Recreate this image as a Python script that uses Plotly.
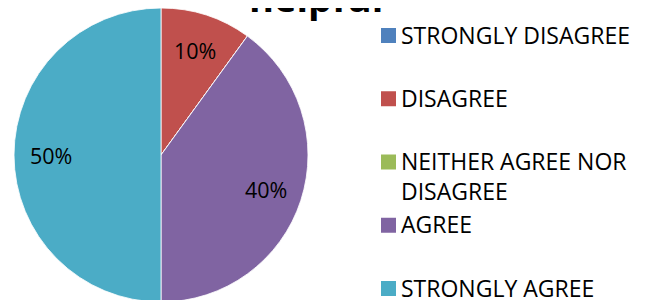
import math
import plotly.graph_objects as go

categories = ["STRONGLY DISAGREE", "DISAGREE", "NEITHER AGREE NOR DISAGREE", "AGREE", "STRONGLY AGREE"]
legend_text = ["STRONGLY DISAGREE", "DISAGREE", "NEITHER AGREE NOR<br>DISAGREE", "AGREE", "STRONGLY AGREE"]
percent_values = [0, 10, 0, 40, 50]
colors = ["#4F81BD", "#C0504D", "#9BBB59", "#8064A2", "#4BACC6"]
title_text = "helpful"

W, H = 649, 300
OFF = 8          # page body margin: figure pixel = screen pixel - OFF
MB = 6
PH = H - MB


def px_x(sx):
    return (sx - OFF) / W


def px_y(sy):
    return 1 - (sy - OFF) / PH


dom_x = [0, 306 / W]
fig = go.Figure(go.Pie(
    labels=categories,
    values=percent_values,
    marker=dict(colors=colors, line=dict(color="rgba(255,255,255,0.8)", width=1)),
    sort=False,
    direction="clockwise",
    rotation=0,
    textinfo="none",
    hoverinfo="label+percent",
    domain=dict(x=dom_x, y=[0, 1]),
    showlegend=False,
))

# slice labels along each slice's mid-angle (screen coords of the pie)
cx = OFF + W * (dom_x[0] + dom_x[1]) / 2
cy = OFF + PH / 2
R = min(W * (dom_x[1] - dom_x[0]), PH) / 2
total = sum(percent_values)
cum = 0
for v in percent_values:
    if v > 0:
        mid = (cum + v / 2) / total * 2 * math.pi
        tx = cx + 0.75 * R * math.sin(mid)
        ty = cy - 0.75 * R * math.cos(mid)
        fig.add_annotation(
            text=f"{round(v / total * 100)}%", x=px_x(tx), y=px_y(ty),
            xref="paper", yref="paper", xanchor="center", yanchor="middle",
            showarrow=False, font=dict(family="Open Sans", size=21.5, color="black"),
        )
    cum += v

# title (partly above the visible page, as in the source)
fig.add_annotation(
    text="<b>" + title_text + "</b>",
    xref="paper", yref="paper", x=px_x(315.5), y=1,
    xanchor="center", yanchor="bottom", showarrow=False,
    font=dict(family="Open Sans", size=38, color="black"),
    yshift=-17,
)

# legend
sq = 15
leg_x_sq = 381
leg_x_txt = 391
leg_y0 = 35.5
leg_step = 63.25
line_h = 30
for i, (lab, col) in enumerate(zip(legend_text, colors)):
    yc = leg_y0 + leg_step * i
    fig.add_shape(
        type="rect", xref="paper", yref="paper",
        x0=px_x(leg_x_sq), x1=px_x(leg_x_sq + sq),
        y0=px_y(yc + sq / 2), y1=px_y(yc - sq / 2),
        fillcolor=col, line=dict(width=0),
    )
    nlines = lab.count("<br>") + 1
    ymid = yc - 1 + (nlines - 1) * line_h / 2
    fig.add_annotation(
        text=lab, xref="paper", yref="paper",
        x=px_x(leg_x_txt + OFF), y=px_y(ymid), xanchor="left", yanchor="middle",
        align="left", showarrow=False,
        font=dict(family="Open Sans", size=23, color="black"),
    )

fig.update_layout(
    width=W, height=H,
    margin=dict(l=0, r=0, t=0, b=MB),
    paper_bgcolor="white", plot_bgcolor="white",
    showlegend=False,
)

fig.write_html("out.html")
